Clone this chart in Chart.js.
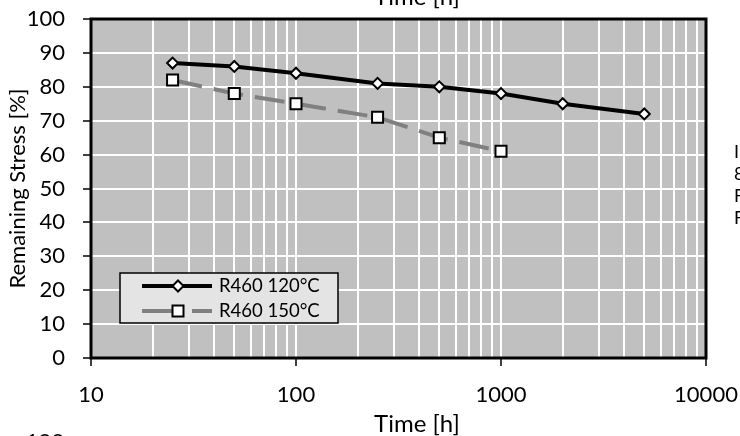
<!DOCTYPE html>
<html><head><meta charset="utf-8">
<script src="https://cdn.jsdelivr.net/npm/chart.js@4/dist/chart.umd.min.js"></script>
<style>html,body{margin:0;padding:0;background:#fff;}#wrap{position:relative;width:740px;height:436px;}</style>
</head><body><div id="wrap"><canvas id="c" width="740" height="436"></canvas></div>
<script>
const timeHours120 = [25, 50, 100, 250, 500, 1000, 2000, 5000];
const stress120 = [87, 86, 84, 81, 80, 78, 75, 72];
const timeHours150 = [25, 50, 100, 250, 500, 1000];
const stress150 = [82, 78, 75, 71, 65, 61];
const seriesNames = ['R460 120°C', 'R460 150°C'];
const xMajorTicks = [10, 100, 1000, 10000];
const yTickStep = 10;
const xTitle = 'Time [h]';
const yTitle = 'Remaining Stress [%]';
const cutTopText = 'Time [h]';
const cutBottomText = '100';
const sideLines = ['I', '8', 'F', 'F'];

const FONT = 'Lato, "Open Sans", sans-serif';
const GRAY_BG = '#c0c0c0';

function isMajor(v) { return xMajorTicks.includes(v); }

const extras = {
  id: 'extras',
  beforeDraw(chart) {
    const { ctx, chartArea: a } = chart;
    ctx.save();
    ctx.fillStyle = GRAY_BG;
    ctx.fillRect(a.left, a.top, a.right - a.left, a.bottom - a.top);
    ctx.restore();
  },
  afterDraw(chart) {
    const { ctx, chartArea: a } = chart;
    ctx.save();
    ctx.strokeStyle = '#000';
    ctx.lineWidth = 3;
    ctx.strokeRect(a.left, a.top, a.right - a.left, a.bottom - a.top);

    // legend
    const lx = 120, ly = 273, lw = 218, lh = 50;
    ctx.fillStyle = '#e4e4e4';
    ctx.fillRect(lx, ly, lw, lh);
    ctx.lineWidth = 1.5;
    ctx.strokeStyle = '#000';
    ctx.strokeRect(lx, ly, lw, lh);
    const rows = [286, 311];
    ctx.lineWidth = 4; ctx.strokeStyle = '#000'; ctx.lineCap = 'butt';
    ctx.beginPath(); ctx.moveTo(142, rows[0]); ctx.lineTo(212, rows[0]); ctx.stroke();
    ctx.fillStyle = '#fff'; ctx.lineWidth = 2; ctx.strokeStyle = '#000';
    ctx.beginPath();
    ctx.moveTo(178, rows[0] - 5.5); ctx.lineTo(183.5, rows[0]); ctx.lineTo(178, rows[0] + 5.5); ctx.lineTo(172.5, rows[0]); ctx.closePath();
    ctx.fill(); ctx.stroke();
    ctx.lineWidth = 4; ctx.strokeStyle = '#808080';
    ctx.beginPath(); ctx.moveTo(142, rows[1]); ctx.lineTo(176, rows[1]); ctx.stroke();
    ctx.beginPath(); ctx.moveTo(192, rows[1]); ctx.lineTo(212, rows[1]); ctx.stroke();
    ctx.fillStyle = '#fff'; ctx.lineWidth = 2; ctx.strokeStyle = '#000';
    ctx.fillRect(172.5, rows[1] - 5.5, 11, 11); ctx.strokeRect(172.5, rows[1] - 5.5, 11, 11);
    ctx.fillStyle = '#000';
    ctx.font = '18.5px ' + FONT;
    ctx.textBaseline = 'middle'; ctx.textAlign = 'left';
    ctx.fillText(seriesNames[0], 219, rows[0]);
    ctx.fillText(seriesNames[1], 219, rows[1]);

    // x axis title
    ctx.font = '24px ' + FONT;
    ctx.textAlign = 'center'; ctx.textBaseline = 'alphabetic';
    ctx.fillText(xTitle, 417, 432);
    ctx.fillText(cutTopText, 417, 5);
    ctx.font = '22px ' + FONT;
    ctx.textBaseline = 'top';
    ctx.fillText(cutBottomText, 45, 431);
    ctx.font = '18px ' + FONT;
    ctx.textAlign = 'left'; ctx.textBaseline = 'middle';
    sideLines.forEach((t, i) => ctx.fillText(t, 734, 152 + i * 22));
    ctx.restore();
  }
};

new Chart(document.getElementById('c'), {
  type: 'scatter',
  data: {
    datasets: [
      {
        label: seriesNames[0],
        data: timeHours120.map((x, i) => ({ x, y: stress120[i] })),
        showLine: true, borderColor: '#000', borderWidth: 4,
        pointStyle: 'rectRot', pointRadius: 5.5, pointBorderWidth: 2,
        pointBackgroundColor: '#fff', pointBorderColor: '#000', tension: 0
      },
      {
        label: seriesNames[1],
        data: timeHours150.map((x, i) => ({ x, y: stress150[i] })),
        showLine: true, borderColor: '#808080', borderWidth: 4, borderDash: [30, 12],
        pointStyle: 'rect', pointRadius: 7.8, pointBorderWidth: 2,
        pointBackgroundColor: '#fff', pointBorderColor: '#000', tension: 0
      }
    ]
  },
  options: {
    responsive: false, animation: false, devicePixelRatio: 1,
    layout: { padding: { top: 19, right: 34, left: 0, bottom: 0 } },
    plugins: { legend: { display: false }, tooltip: { enabled: false }, title: { display: false } },
    scales: {
      x: {
        type: 'logarithmic', min: 10, max: 10000,
        afterBuildTicks(scale) {
          const t = [];
          for (let d = 10; d < 10000; d *= 10) for (let m = 1; m < 10; m++) t.push({ value: d * m });
          t.push({ value: 10000 });
          scale.ticks = t;
        },
        afterFit(scale) { scale.height = 78; scale.paddingLeft = 0; scale.paddingRight = 0; },
        border: { display: false },
        grid: {
          color: '#fff', lineWidth: 2, tickLength: 8, tickWidth: 1.5,
          tickColor: c => (c.tick && isMajor(c.tick.value)) ? '#000' : 'rgba(0,0,0,0)'
        },
        ticks: {
          autoSkip: false, maxRotation: 0, color: '#000', padding: 16,
          font: { family: FONT, size: 22 },
          callback: v => isMajor(v) ? String(v) : ''
        },
        title: { display: false }
      },
      y: {
        min: 0, max: 100,
        afterFit(scale) { scale.width = 91; scale.paddingTop = 0; scale.paddingBottom = 0; },
        border: { display: false },
        grid: { color: '#fff', lineWidth: 2, tickLength: 8, tickWidth: 1.5, tickColor: '#000' },
        ticks: { stepSize: yTickStep, color: '#000', padding: 18, font: { family: FONT, size: 22 } },
        title: { display: true, text: yTitle, color: '#000', font: { family: FONT, size: 22 }, padding: { top: 5, bottom: 0 } }
      }
    }
  },
  plugins: [extras]
});
</script></body></html>
